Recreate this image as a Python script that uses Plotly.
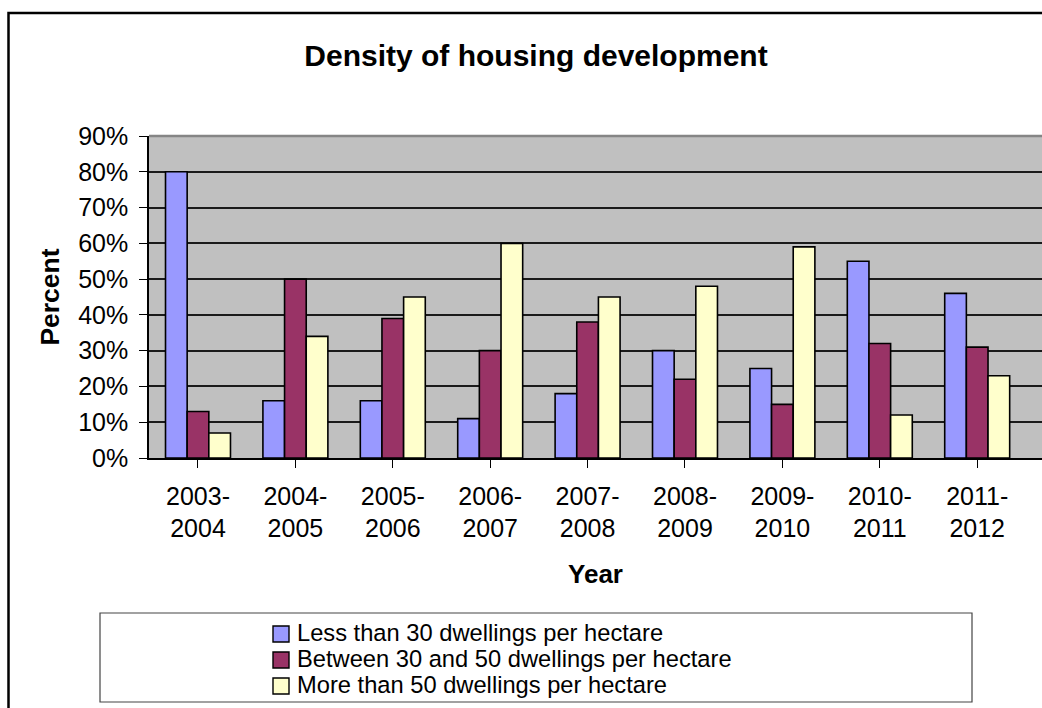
import plotly.graph_objects as go

# ---- data ----
years = ["2003-<br>2004", "2004-<br>2005", "2005-<br>2006", "2006-<br>2007", "2007-<br>2008",
         "2008-<br>2009", "2009-<br>2010", "2010-<br>2011", "2011-<br>2012"]
series_names = ["Less than 30 dwellings per hectare",
                "Between 30 and 50 dwellings per hectare",
                "More than 50 dwellings per hectare"]
less_30 = [0.80, 0.16, 0.16, 0.11, 0.18, 0.30, 0.25, 0.55, 0.46]
between_30_50 = [0.13, 0.50, 0.39, 0.30, 0.38, 0.22, 0.15, 0.32, 0.31]
more_50 = [0.07, 0.34, 0.45, 0.60, 0.45, 0.48, 0.59, 0.12, 0.23]
y_ticks = [0, 0.1, 0.2, 0.3, 0.4, 0.5, 0.6, 0.7, 0.8, 0.9]

colors = ["#9999FF", "#993366", "#FFFFCC"]
FONT = "Arial, Liberation Sans, sans-serif"

W, H = 1042, 708
L, R, T, B = 149, 0, 136, 250
PW, PH = W - L - R, H - T - B


def px(x):
    return (x - L) / PW


def py(y):
    return (H - B - y) / PH


fig = go.Figure()
for name, vals, col in zip(series_names, [less_30, between_30_50, more_50], colors):
    fig.add_trace(go.Bar(
        x=list(range(len(years))), y=vals, name=name,
        marker=dict(color=col, line=dict(color="black", width=1.6)),
        showlegend=False,
    ))

fig.update_layout(
    width=W, height=H,
    margin=dict(l=L, r=R, t=T, b=B, pad=0),
    paper_bgcolor="white", plot_bgcolor="#C0C0C0",
    barmode="group", bargap=0.333, bargroupgap=0,
    font=dict(family=FONT, color="black", size=25),
    title=dict(text="<b>Density of housing development</b>",
               font=dict(family=FONT, size=30, color="black"),
               x=536 / W, xanchor="center", xref="container",
               y=1 - 55 / H, yanchor="middle", yref="container"),
)

fig.update_xaxes(
    range=[-0.503, -0.503 + PW / 97.4],
    tickmode="array", tickvals=list(range(len(years))), ticktext=years,
    tickfont=dict(size=25, family=FONT),
    ticks="outside", ticklen=8, tickcolor="black", tickwidth=1.2,
    tickson="boundaries",
    showline=True, linecolor="black", linewidth=1.5,
    showgrid=False, zeroline=False,
    ticklabelstandoff=7,
    title=dict(text="<b>Year</b>", font=dict(size=26, family=FONT), standoff=24),
)
fig.update_yaxes(
    range=[0, 0.9], tickmode="array", tickvals=y_ticks,
    tickformat=".0%",
    tickfont=dict(size=25, family=FONT),
    ticks="outside", ticklen=8, tickcolor="black", tickwidth=1.2,
    showline=True, linecolor="black", linewidth=1.5,
    showgrid=True, gridcolor="#1a1a1a", gridwidth=1.5,
    zeroline=False,
    ticklabelstandoff=6,
    title=dict(text="<b>Percent</b>", font=dict(size=26.5, family=FONT), standoff=11),
)

shapes = []
# top border of plot area (gray)
shapes.append(dict(type="line", xref="paper", yref="paper", x0=0, x1=1, y0=1, y1=1,
                   line=dict(color="#858585", width=2.5), layer="above"))
# outer chart border
shapes.append(dict(type="rect", xref="paper", yref="paper",
                   x0=px(8.5), x1=px(1070), y0=py(13), y1=py(730),
                   line=dict(color="black", width=2.5), fillcolor="rgba(0,0,0,0)", layer="above"))
# legend box
shapes.append(dict(type="rect", xref="paper", yref="paper",
                   x0=px(100), x1=px(972), y0=py(613), y1=py(702),
                   line=dict(color="#444444", width=1.2), fillcolor="white", layer="above"))

annotations = []
legend_rows = [634, 660, 686]
for name, col, yc in zip(series_names, colors, legend_rows):
    shapes.append(dict(type="rect", xref="paper", yref="paper",
                       x0=px(273), x1=px(289), y0=py(yc - 8), y1=py(yc + 8),
                       line=dict(color="black", width=1.4), fillcolor=col, layer="above"))
    annotations.append(dict(xref="paper", yref="paper", x=px(295), y=py(yc - 1),
                            xanchor="left", yanchor="middle", showarrow=False,
                            text=name, font=dict(size=23.7, family=FONT, color="black")))

fig.update_layout(shapes=shapes, annotations=annotations)

fig.write_html("out.html")
